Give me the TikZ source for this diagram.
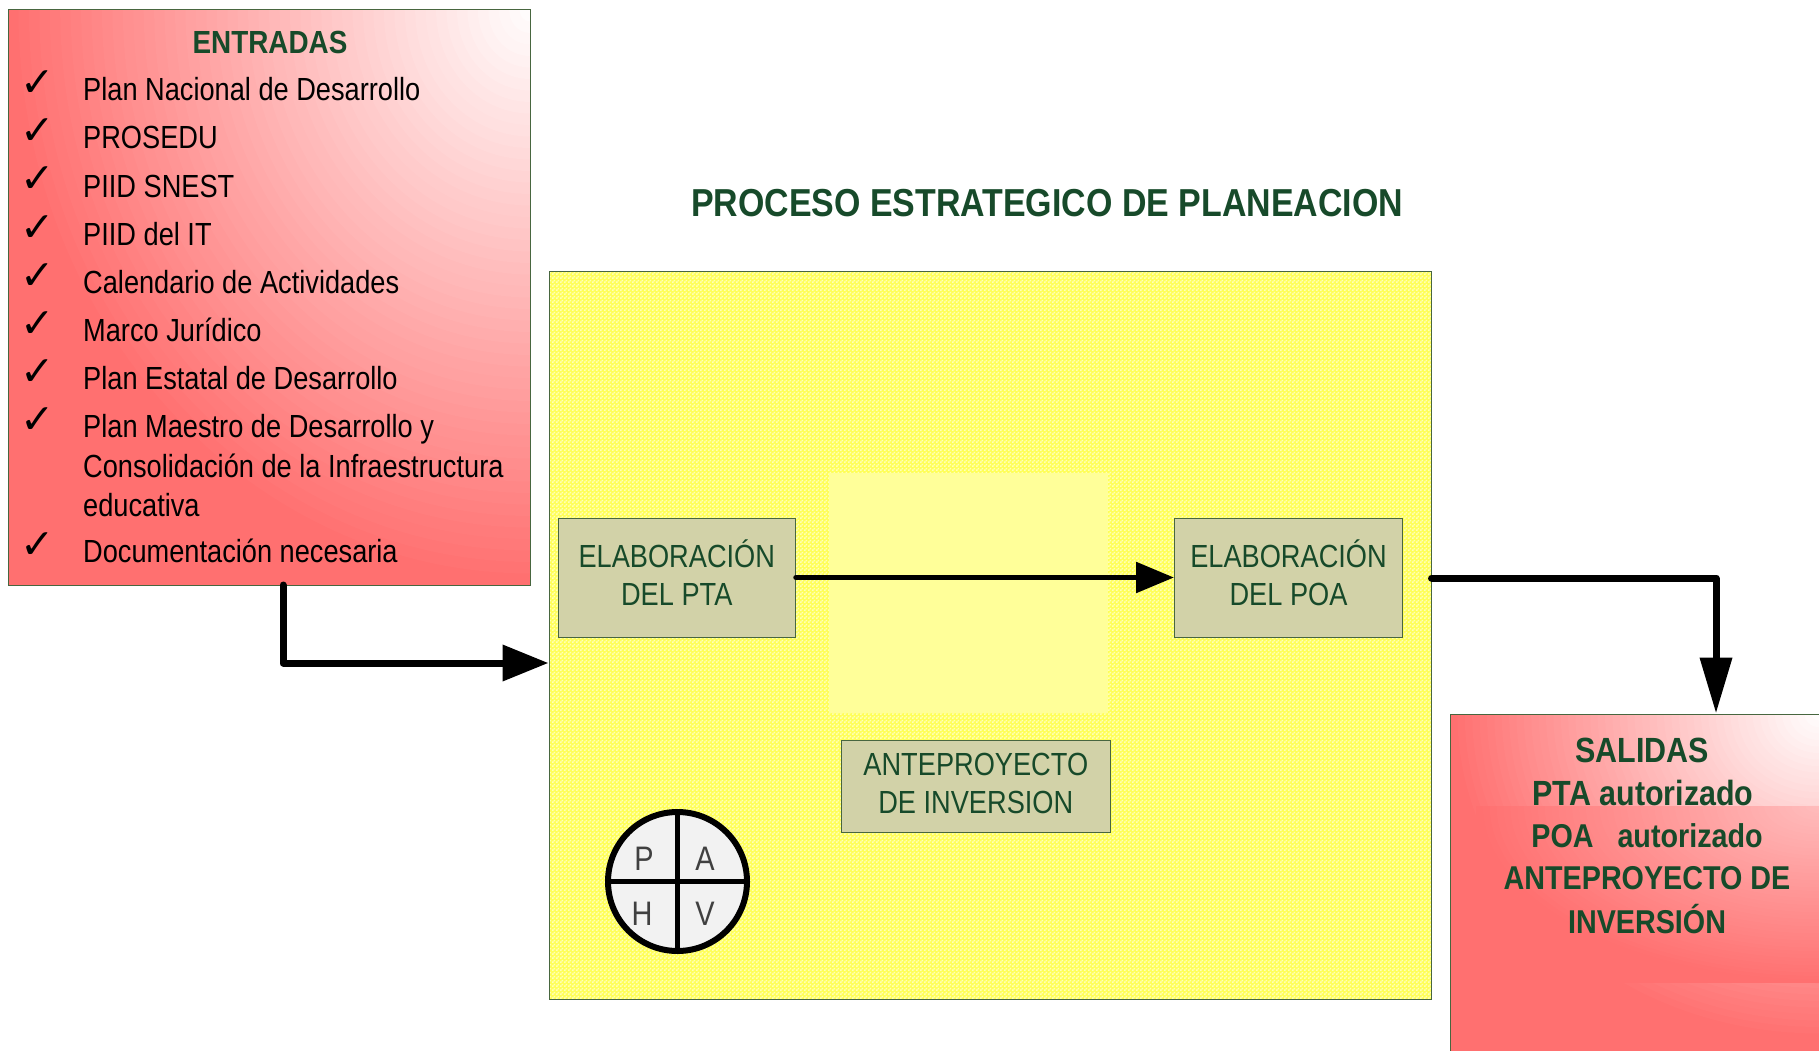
\documentclass[tikz,border=0pt]{standalone}
\usepackage{fontspec}
\setmainfont[FakeStretch=0.85]{Liberation Sans}
\newfontfamily\headfont[FakeStretch=0.87]{Liberation Sans}
\newfontfamily\chkfont{DejaVu Sans}
\usetikzlibrary{arrows.meta,patterns}
\definecolor{dkgreen}{HTML}{174A2A}
\definecolor{edgegreen}{HTML}{47663F}
\definecolor{hotred}{HTML}{FF7070}
\definecolor{procyellow}{HTML}{FFFF58}
\definecolor{dotyellow}{HTML}{FFFFB8}
\definecolor{softyellow}{HTML}{FFFF99}
\definecolor{boxkhaki}{HTML}{D2D2A8}
\definecolor{patchtop}{HTML}{FFBDBD}
\pgfdeclarepatternformonly{ditherdots}{\pgfqpoint{0pt}{0pt}}{\pgfqpoint{4pt}{4pt}}{\pgfqpoint{4pt}{4pt}}{%
  \pgfpathrectangle{\pgfqpoint{0pt}{0pt}}{\pgfqpoint{2pt}{2pt}}%
  \pgfpathrectangle{\pgfqpoint{2pt}{2pt}}{\pgfqpoint{2pt}{2pt}}%
  \pgfusepath{fill}}
\newcommand{\gradrect}[5]{%
  \begin{scope}
  \clip (#1,#2) rectangle (#3,#4);
  \fill[hotred] (#1,#2) rectangle (#3,#4);
  \foreach \gradt in {100,98,...,2}{%
    \pgfmathsetmacro\gradx{(#3-#1)*(\gradt/100)}
    \pgfmathsetmacro\grady{(#4-#2)*(\gradt/100)}
    \fill[hotred!\gradt!#5] (#3,#2) ellipse [x radius=\gradx,y radius=\grady];
  }%
  \end{scope}
}
\tikzset{
  itemtext/.style={anchor=base west,inner sep=0pt,text=black,font=\fontsize{32}{32}\selectfont},
  chkmark/.style={anchor=base west,inner sep=0pt,text=black,font=\chkfont\fontsize{41}{41}\selectfont},
  boxstyle/.style={draw=edgegreen,line width=1pt,inner sep=0pt},
  stepbox/.style={boxstyle,fill=boxkhaki,text=dkgreen,align=center,font=\fontsize{32}{38}\selectfont},
  headtext/.style={anchor=base,inner sep=0pt,text=dkgreen,font=\headfont\bfseries\fontsize{33}{33}\selectfont},
  bighead/.style={headtext,font=\headfont\bfseries\fontsize{35}{35}\selectfont},
  flow/.style={line width=7pt,line cap=round,line join=round,black},
  pdcaletter/.style={inner sep=0pt,text=black!75,font=\fontsize{34}{34}\selectfont},
}
\begin{document}
\begin{tikzpicture}[x=1pt,y=-1pt]
\useasboundingbox (0,0) rectangle (1819,1051);
\clip (0,0) rectangle (1819,1051);
% entradas
\gradrect{8}{10}{530}{585}{white}
\node[boxstyle,minimum width=522pt,minimum height=575pt] (entradas) at (269,297.5) {};
\node[headtext,font=\headfont\bfseries\fontsize{32}{32}\selectfont] (enttitle) at (270,54) {ENTRADAS};
\foreach \nm/\yy in {a/97,b/145,c/193,d/241,e/289,f/337,g/385,h/433,i/558}{
  \node[chkmark] (chk\nm) at (20.7,\yy) {✓};
}
\node[itemtext] (i1) at (83,101) {Plan Nacional de Desarrollo};
\node[itemtext] (i2) at (83,149) {PROSEDU};
\node[itemtext] (i3) at (83,197) {PIID SNEST};
\node[itemtext] (i4) at (83,245) {PIID del IT};
\node[itemtext] (i5) at (83,293) {Calendario de Actividades};
\node[itemtext] (i6) at (83,341) {Marco Jurídico};
\node[itemtext] (i7) at (83,389) {Plan Estatal de Desarrollo};
\node[itemtext] (i8) at (83,437) {Plan Maestro de Desarrollo y};
\node[itemtext] (i9) at (83,477) {Consolidación de la Infraestructura};
\node[itemtext] (i10) at (83,516) {educativa};
\node[itemtext] (i11) at (83,562) {Documentación necesaria};
% title
\node[anchor=base,inner sep=0pt,text=dkgreen,font=\headfont\bfseries\fontsize{39}{39}\selectfont] (title) at (1047,216) {PROCESO ESTRATEGICO DE PLANEACION};
% process area
\fill[procyellow] (549,271) rectangle (1431,999);
\fill[pattern=ditherdots,pattern color=dotyellow] (549,271) rectangle (1431,999);
\node[boxstyle,minimum width=882pt,minimum height=728pt] (proc) at (990,635) {};
\fill[softyellow] (829,473) rectangle (1108,713);
\node[stepbox,text depth=9pt,minimum width=237.5pt,minimum height=119pt] (pta) at (676.75,577.5) {ELABORACIÓN\\DEL PTA};
\node[stepbox,text depth=9pt,minimum width=228pt,minimum height=119pt] (poa) at (1288.5,577.5) {ELABORACIÓN\\DEL POA};
\node[stepbox,text depth=5pt,minimum width=269.6pt,minimum height=92pt] (ante) at (975.8,786) {ANTEPROYECTO\\DE INVERSION};
% PDCA
\node[circle,draw=black,line width=6pt,fill=black!5,minimum size=139pt,inner sep=0pt] (pdca) at (677.5,881.5) {};
\draw[line width=4.5pt,black] (pdca.north) -- (pdca.south);
\draw[line width=4.5pt,black] (pdca.west) -- (pdca.east);
\node[pdcaletter] (lp) at (644,859) {P};
\node[pdcaletter] (la) at (705,859) {A};
\node[pdcaletter] (lh) at (642,914) {H};
\node[pdcaletter] (lv) at (705,914) {V};
% salidas
\gradrect{1450}{714}{1819}{1040}{white}
\fill[hotred] (1450,1040) rectangle (1819,1051);
\gradrect{1476}{806}{1819}{983}{patchtop}
\node[boxstyle,minimum width=400pt,minimum height=360pt] (salidas) at (1650,894) {};
\node[bighead] (s1) at (1642,762) {SALIDAS};
\node[bighead] (s2) at (1643,805) {PTA autorizado};
\node[headtext] (s3) at (1647,847) {POA \ \ autorizado};
\node[headtext] (s4) at (1647,889) {ANTEPROYECTO DE};
\node[headtext] (s5) at (1647,933) {INVERSIÓN};
% connectors
\coordinate (e1) at (283,585);
\coordinate (e2) at (283,663);
\coordinate (s1c) at (1716,578);
\draw[flow,-{Triangle[length=46pt,width=35pt]}] (e1) -- (e2) -- (proc.west |- e2);
\draw[flow,line width=5.5pt,-{Triangle[length=38pt,width=30pt]}] (pta.east) -- (poa.west);
\draw[flow,-{Triangle[length=56pt,width=31pt]}] (proc.east |- s1c) -- (s1c) -- (s1c |- salidas.north);
\end{tikzpicture}
\end{document}
